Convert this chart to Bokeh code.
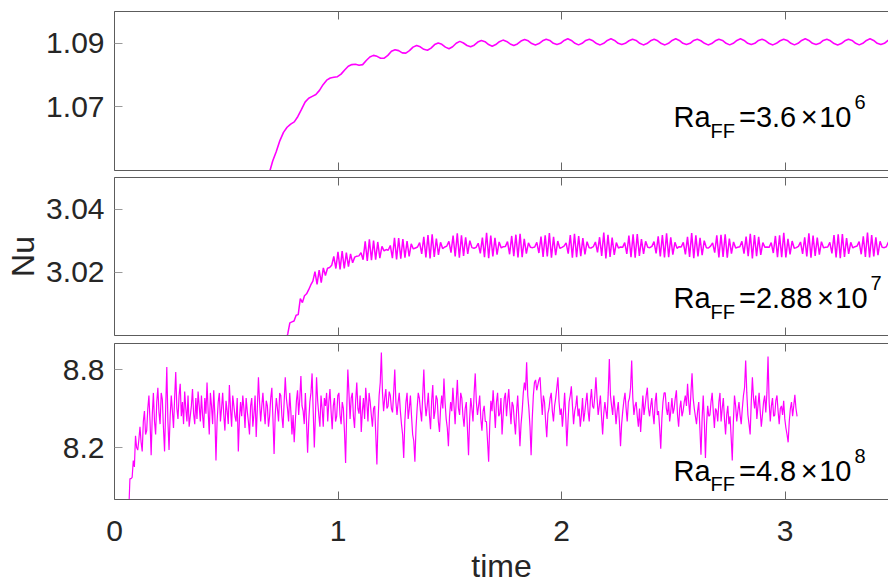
import numpy as np
from bokeh.plotting import figure
from bokeh.models import Range1d, LinearAxis, FixedTicker, Label
from bokeh.layouts import column
from bokeh.embed import file_html
from bokeh.resources import INLINE

# ---------------- data ----------------
time_ticks = [0, 1, 2, 3]
x_end = 3.463

# panel 1 : Ra_FF = 3.6e6  (regular sampling start / step)
nu1_t0, nu1_dt = 0.6756, 0.0161
nu1 = [1.0460, 1.0490, 1.0530, 1.0560, 1.0594, 1.0620, 1.0636, 1.0646, 1.0653, 1.0670,
       1.0692, 1.0715, 1.0727, 1.0733, 1.0739, 1.0752, 1.0770, 1.0784, 1.0791, 1.0793,
       1.0795, 1.0803, 1.0816, 1.0828, 1.0833, 1.0834, 1.0831, 1.0833, 1.0846, 1.0857,
       1.0862, 1.0859, 1.0853, 1.0853, 1.0862, 1.0875, 1.0880, 1.0877, 1.0870, 1.0869,
       1.0877, 1.0888, 1.0893, 1.0889, 1.0881, 1.0878, 1.0885, 1.0896, 1.0901, 1.0897,
       1.0888, 1.0883, 1.0889, 1.0900, 1.0906, 1.0901, 1.0893, 1.0889, 1.0894, 1.0904,
       1.0909, 1.0905, 1.0896, 1.0891, 1.0896, 1.0905, 1.0910, 1.0906, 1.0898, 1.0893,
       1.0898, 1.0907, 1.0912,
       1.0908, 1.0899, 1.0895, 1.0899, 1.0908, 1.0913,
       1.0909, 1.0900, 1.0896, 1.0900, 1.0909, 1.0914,
       1.0909, 1.0900, 1.0895, 1.0900, 1.0909, 1.0913,
       1.0908, 1.0899, 1.0895, 1.0900, 1.0909, 1.0914,
       1.0909, 1.0900, 1.0896, 1.0900, 1.0908, 1.0913,
       1.0909, 1.0900, 1.0895, 1.0899, 1.0908, 1.0913,
       1.0908, 1.0899, 1.0895, 1.0900, 1.0909, 1.0914,
       1.0909, 1.0900, 1.0896, 1.0900, 1.0909, 1.0913,
       1.0908, 1.0900, 1.0895, 1.0899, 1.0908, 1.0913,
       1.0909, 1.0900, 1.0895, 1.0900, 1.0909, 1.0914,
       1.0909, 1.0900, 1.0896, 1.0900, 1.0909, 1.0913,
       1.0908, 1.0899, 1.0895, 1.0900, 1.0908, 1.0913,
       1.0909, 1.0900, 1.0895, 1.0900, 1.0909, 1.0914,
       1.0909, 1.0900, 1.0896, 1.0900, 1.0909, 1.0913,
       1.0908, 1.0899, 1.0895, 1.0899, 1.0908, 1.0913,
       1.0909, 1.0900, 1.0895, 1.0900, 1.0909, 1.0914,
       1.0909, 1.0900, 1.0896, 1.0900, 1.0909, 1.0913]

# panel 2 : Ra_FF = 2.88e7
nu2_t0, nu2_dt = 0.7658, 0.009364
nu2 = [2.9980, 3.0005, 3.0040, 3.0043, 3.0046, 3.0064, 3.0066, 3.0117, 3.0104, 3.0126,
       3.0132, 3.0145, 3.0160, 3.0172, 3.0202, 3.0162, 3.0207, 3.0167, 3.0214, 3.0190,
       3.0213, 3.0215, 3.0222, 3.0250, 3.0212, 3.0265, 3.0209, 3.0267, 3.0212, 3.0262,
       3.0218, 3.0258, 3.0230, 3.0248, 3.0251, 3.0252, 3.0262, 3.0240, 3.0298, 3.0236,
       3.0304, 3.0238, 3.0300, 3.0240, 3.0296, 3.0245, 3.0282, 3.0268, 3.0272, 3.0270,
       3.0285, 3.0245, 3.0309, 3.0241, 3.0308, 3.0243, 3.0305, 3.0246, 3.0299, 3.0250,
       3.0290, 3.0274,
       3.0277, 3.0280, 3.0294, 3.0258, 3.0312, 3.0247, 3.0318, 3.0244, 3.0320, 3.0249, 3.0307, 3.0255, 3.0295, 3.0275,
       3.0280, 3.0283, 3.0298, 3.0262, 3.0316, 3.0250, 3.0323, 3.0246, 3.0317, 3.0252, 3.0311, 3.0258, 3.0300, 3.0278,
       3.0276, 3.0279, 3.0292, 3.0260, 3.0310, 3.0248, 3.0325, 3.0245, 3.0316, 3.0250, 3.0309, 3.0256, 3.0296, 3.0277,
       3.0281, 3.0282, 3.0297, 3.0257, 3.0315, 3.0251, 3.0319, 3.0247, 3.0322, 3.0248, 3.0306, 3.0259, 3.0293, 3.0279,
       3.0278, 3.0280, 3.0295, 3.0261, 3.0313, 3.0249, 3.0317, 3.0250, 3.0324, 3.0246, 3.0312, 3.0254, 3.0299, 3.0276,
       3.0279, 3.0283, 3.0293, 3.0259, 3.0318, 3.0246, 3.0322, 3.0248, 3.0315, 3.0251, 3.0308, 3.0257, 3.0297, 3.0278,
       3.0277, 3.0281, 3.0296, 3.0263, 3.0311, 3.0252, 3.0326, 3.0244, 3.0319, 3.0249, 3.0310, 3.0255, 3.0294, 3.0277,
       3.0280, 3.0279, 3.0294, 3.0258, 3.0316, 3.0248, 3.0320, 3.0246, 3.0321, 3.0252, 3.0305, 3.0258, 3.0298, 3.0279,
       3.0278, 3.0282, 3.0297, 3.0260, 3.0314, 3.0250, 3.0318, 3.0247, 3.0323, 3.0248, 3.0311, 3.0256, 3.0295, 3.0276,
       3.0281, 3.0280, 3.0295, 3.0257, 3.0312, 3.0249, 3.0324, 3.0245, 3.0317, 3.0250, 3.0309, 3.0254, 3.0300, 3.0278,
       3.0277, 3.0283, 3.0293, 3.0262, 3.0317, 3.0247, 3.0319, 3.0249, 3.0320, 3.0246, 3.0307, 3.0259, 3.0296, 3.0277,
       3.0279, 3.0281, 3.0298, 3.0259, 3.0313, 3.0251, 3.0322, 3.0244, 3.0318, 3.0251, 3.0312, 3.0255, 3.0294, 3.0279,
       3.0280, 3.0279, 3.0294, 3.0261, 3.0315, 3.0248, 3.0317, 3.0248, 3.0325, 3.0247, 3.0306, 3.0257, 3.0299, 3.0276,
       3.0278, 3.0282, 3.0296, 3.0258, 3.0311, 3.0250, 3.0323, 3.0246, 3.0316, 3.0252, 3.0310, 3.0256, 3.0297, 3.0278,
       3.0279, 3.0280, 3.0295, 3.0260, 3.0318, 3.0247, 3.0320, 3.0245, 3.0321, 3.0249, 3.0308, 3.0258, 3.0295, 3.0277,
       3.0281, 3.0283, 3.0297, 3.0257, 3.0314, 3.0249, 3.0326, 3.0247, 3.0318, 3.0250, 3.0311, 3.0254, 3.0298, 3.0279,
       3.0278, 3.0281, 3.0296]

# panel 3 : Ra_FF = 4.8e8
nu3_t0, nu3_dt = 0.064, 0.005
nu3 = [7.72, 7.96, 7.96, 7.97, 8.10, 8.05, 8.29, 8.20, 8.18, 8.26, 8.36, 8.24, 8.17, 8.40, 8.48, 8.30, 8.33, 8.50, 8.60, 8.40,
       8.14, 8.45, 8.62, 8.40, 8.30, 8.55, 8.66, 8.47, 8.38, 8.62, 8.57, 8.35, 8.17, 8.50, 8.82, 8.40, 8.18, 8.44, 8.60, 8.48,
       8.35, 8.58, 8.78, 8.50, 8.42, 8.60, 8.69, 8.44, 8.55, 8.38, 8.63, 8.50, 8.40, 8.60, 8.36, 8.44, 8.52, 8.65, 8.46, 8.38,
       8.58, 8.42, 8.63, 8.52, 8.40, 8.60, 8.45, 8.35, 8.58, 8.46, 8.70, 8.48, 8.30, 8.62, 8.52, 8.38, 8.64, 8.45, 8.10, 8.40,
       8.55, 8.62, 8.40, 8.50, 8.62, 8.45, 8.33, 8.56, 8.48, 8.38, 8.68, 8.50, 8.36, 8.60, 8.52, 8.44, 8.40, 8.58, 8.17, 8.42,
       8.55, 8.44, 8.60, 8.50, 8.35, 8.58, 8.48, 8.40, 8.30, 8.52, 8.58, 8.36, 8.46, 8.60, 8.28, 8.50, 8.74, 8.55, 8.40, 8.52,
       8.62, 8.48, 8.38, 8.56, 8.52, 8.36, 8.44, 8.58, 8.66, 8.42, 8.15, 8.45, 8.58, 8.50, 8.40, 8.62, 8.60, 8.44, 8.35, 8.55,
       8.74, 8.58, 8.50, 8.40, 8.62, 8.48, 8.30, 8.45, 8.24, 8.40, 8.56, 8.64, 8.45, 8.58, 8.75, 8.52, 8.48, 8.38, 8.62, 8.40,
       8.16, 8.40, 8.55, 8.62, 8.77, 8.48, 8.20, 8.45, 8.74, 8.56, 8.45, 8.36, 8.60, 8.50, 8.36, 8.58, 8.52, 8.62, 8.40, 8.55,
       8.65, 8.48, 8.34, 8.52, 8.58, 8.40, 8.44, 8.60, 8.62, 8.45, 8.38, 8.55, 8.50, 8.32, 8.08, 8.48, 8.80, 8.62, 8.42, 8.58,
       8.62, 8.44, 8.35, 8.56, 8.70, 8.50, 8.46, 8.60, 8.32, 8.48, 8.58, 8.42, 8.66, 8.55, 8.40, 8.62, 8.55, 8.45, 8.36, 8.50,
       8.52, 8.30, 8.07, 8.40, 8.60, 8.70, 8.93, 8.62, 8.48, 8.58, 8.65, 8.50, 8.52, 8.63, 8.60, 8.50, 8.47, 8.62, 8.80, 8.55,
       8.45, 8.55, 8.62, 8.48, 8.38, 8.30, 8.12, 8.40, 8.55, 8.62, 8.42, 8.50, 8.60, 8.44, 8.30, 8.25, 8.09, 8.35, 8.50, 8.62,
       8.58, 8.48, 8.40, 8.60, 8.80, 8.55, 8.44, 8.52, 8.62, 8.45, 8.34, 8.56, 8.68, 8.42, 8.48, 8.60, 8.57, 8.40, 8.32, 8.50,
       8.60, 8.50, 8.73, 8.55, 8.42, 8.35, 8.21, 8.44, 8.55, 8.48, 8.66, 8.52, 8.38, 8.56, 8.72, 8.50, 8.45, 8.62, 8.58, 8.44,
       8.36, 8.50, 8.55, 8.35, 8.14, 8.42, 8.58, 8.50, 8.40, 8.62, 8.77, 8.55, 8.45, 8.52, 8.60, 8.42, 8.33, 8.48, 8.52, 8.40,
       8.40, 8.25, 8.09, 8.38, 8.56, 8.48, 8.64, 8.50, 8.35, 8.55, 8.62, 8.44, 8.46, 8.58, 8.30, 8.45, 8.58, 8.62, 8.44, 8.56,
       8.65, 8.50, 8.38, 8.55, 8.52, 8.40, 8.30, 8.48, 8.60, 8.42, 8.21, 8.38, 8.48, 8.62, 8.70, 8.64, 8.855, 8.60, 8.50, 8.36,
       8.14, 8.42, 8.60, 8.70, 8.72, 8.64, 8.68, 8.72, 8.74, 8.58, 8.45, 8.60, 8.55, 8.40, 8.28, 8.46, 8.50, 8.58, 8.62, 8.48,
       8.40, 8.52, 8.58, 8.66, 8.74, 8.55, 8.45, 8.50, 8.36, 8.48, 8.62, 8.44, 8.21, 8.40, 8.55, 8.60, 8.67, 8.52, 8.38, 8.48,
       8.52, 8.60, 8.44, 8.50, 8.36, 8.45, 8.58, 8.40, 8.47, 8.55, 8.62, 8.48, 8.40, 8.56, 8.65, 8.52, 8.50, 8.60, 8.74, 8.58,
       8.45, 8.52, 8.60, 8.44, 8.30, 8.46, 8.55, 8.48, 8.42, 8.62, 8.88, 8.60, 8.52, 8.45, 8.60, 8.50, 8.38, 8.48, 8.55, 8.40,
       8.21, 8.38, 8.48, 8.56, 8.62, 8.50, 8.40, 8.55, 8.58, 8.66, 8.87, 8.58, 8.45, 8.52, 8.55, 8.44, 8.36, 8.50, 8.32, 8.46,
       8.60, 8.45, 8.52, 8.60, 8.66, 8.50, 8.44, 8.52, 8.58, 8.46, 8.38, 8.55, 8.62, 8.45, 8.48, 8.35, 8.19, 8.42, 8.55, 8.62,
       8.62, 8.50, 8.45, 8.55, 8.40, 8.48, 8.58, 8.46, 8.50, 8.58, 8.64, 8.45, 8.36, 8.50, 8.56, 8.44, 8.48, 8.55, 8.60, 8.52,
       8.69, 8.55, 8.45, 8.62, 8.77, 8.58, 8.50, 8.44, 8.38, 8.48, 8.55, 8.35, 8.145, 8.42, 8.60, 8.40, 8.12, 8.38, 8.52, 8.44,
       8.45, 8.55, 8.62, 8.48, 8.35, 8.50, 8.48, 8.40, 8.55, 8.62, 8.40, 8.50, 8.58, 8.42, 8.30, 8.45, 8.52, 8.38, 8.44, 8.28,
       8.10, 8.40, 8.60, 8.52, 8.40, 8.48, 8.55, 8.45, 8.38, 8.50, 8.60, 8.66, 8.87, 8.62, 8.45, 8.38, 8.30, 8.55, 8.74, 8.58,
       8.50, 8.60, 8.42, 8.52, 8.62, 8.48, 8.36, 8.45, 8.55, 8.60, 8.47, 8.62, 8.90, 8.55, 8.40, 8.52, 8.58, 8.44, 8.45, 8.56,
       8.60, 8.48, 8.38, 8.50, 8.52, 8.45, 8.56, 8.42, 8.35, 8.30, 8.24, 8.40, 8.50, 8.55, 8.44, 8.52, 8.605, 8.50, 8.44]

y_limits = [(1.05, 1.10), (3.00, 3.05), (7.8, 9.0)]
y_ticks = [[1.07, 1.09], [3.02, 3.04], [8.2, 8.8]]
ra_mantissa = ["3.6", "2.88", "4.8"]
ra_exponent = ["6", "7", "8"]

# ---------------- layout / style ----------------
FONT = "Liberation Sans"
MAG = "#FF00FF"
AX = "#5c5c5c"
TXT = "#262626"
W = 888
LEFT = 114
FRAME_W = W - LEFT
# (top border, frame height, bottom border) per panel
geo = [(11, 159, 3), (4, 158, 4), (4, 158, 85)]
frame_tops = [11, 177, 343]
baselines = [116.7, 297.7, 471.7]
line_w = [1.6, 1.5, 1.2]

xr = Range1d(0, x_end)

EM = {".": 0.278, "=": 0.584}
def text_w(s, size):
    return sum(EM.get(c, 0.556) for c in s) * size

series = [(nu1_t0, nu1_dt, nu1), (nu2_t0, nu2_dt, nu2), (nu3_t0, nu3_dt, nu3)]
figs = []
for k in range(3):
    top_b, fh, bot_b = geo[k]
    lo, hi = y_limits[k]
    p = figure(width=W, height=top_b + fh + bot_b, x_range=xr, y_range=Range1d(lo, hi),
               output_backend="svg", toolbar_location=None,
               x_axis_location=None, y_axis_location=None)
    p.min_border = 0
    p.min_border_left = LEFT
    p.min_border_right = 0
    p.min_border_top = top_b
    p.min_border_bottom = bot_b
    p.outline_line_color = None
    p.grid.visible = False
    p.background_fill_color = "white"
    p.border_fill_color = "white"

    # left axis
    ya = LinearAxis(ticker=FixedTicker(ticks=y_ticks[k]))
    ya.axis_line_color = AX
    ya.major_tick_in = 8
    ya.major_tick_out = 0
    ya.major_tick_line_color = "#9a9a9a"
    ya.minor_tick_line_color = None
    ya.major_label_standoff = 10
    ya.major_label_text_font = FONT
    ya.major_label_text_font_size = "30px"
    ya.major_label_text_color = TXT
    if k == 1:
        ya.axis_label = "Nu"
        ya.axis_label_text_font = FONT
        ya.axis_label_text_font_size = "32px"
        ya.axis_label_text_font_style = "normal"
        ya.axis_label_text_color = TXT
        ya.axis_label_standoff = 2
    p.add_layout(ya, "left")

    for side in ("above", "below"):
        xa = LinearAxis(ticker=FixedTicker(ticks=time_ticks))
        xa.axis_line_color = AX
        xa.major_tick_in = 8
        xa.major_tick_out = 0
        xa.major_tick_line_color = "#666666"
        xa.minor_tick_line_color = None
        if side == "below" and k == 2:
            xa.major_label_standoff = 21
            xa.major_label_text_font = FONT
            xa.major_label_text_font_size = "30px"
            xa.major_label_text_color = TXT
            xa.axis_label = "time"
            xa.axis_label_text_font = FONT
            xa.axis_label_text_font_size = "32px"
            xa.axis_label_text_font_style = "normal"
            xa.axis_label_text_color = TXT
            xa.axis_label_standoff = 4
        else:
            xa.major_label_standoff = 0
            xa.major_label_text_font_size = "1px"
            xa.major_label_text_color = None
        p.add_layout(xa, side)

    t0, dt, vals = series[k]
    t = t0 + dt * np.arange(len(vals))
    p.line(t, vals, line_color=MAG, line_width=line_w[k])

    # Ra_FF label (pixel layout converted to data units)
    ppx = FRAME_W / x_end
    ppy = fh / (hi - lo)
    ftop = frame_tops[k]
    X = lambda px: (px - LEFT) / ppx
    Y = lambda py: hi - (py - ftop) / ppy
    b = baselines[k]
    big, small = 29, 20
    x0 = 673
    def lab(px, py, txt, size, align="left"):
        p.add_layout(Label(x=X(px), y=Y(py), text=txt, text_font=FONT,
                           text_font_size=f"{size}px", text_color="black",
                           text_align=align, text_baseline="alphabetic"))
    lab(x0, b, "Ra", big)
    lab(x0 + 37.1, b + 14, "FF", small)
    eq = "=" + ra_mantissa[k]
    xeq = 738.5
    lab(xeq, b, eq, big)
    eq_end = xeq + text_w(eq, big)
    lab(eq_end + 13, b, "\u00d7", big, "center")
    lab(eq_end + 23, b, "10", big)
    lab(eq_end + 23 + text_w("10", big) + 3, b - 15, ra_exponent[k], small)
    figs.append(p)

layout = column(*figs, spacing=0)
open("out.html", "w").write(file_html(layout, INLINE))
